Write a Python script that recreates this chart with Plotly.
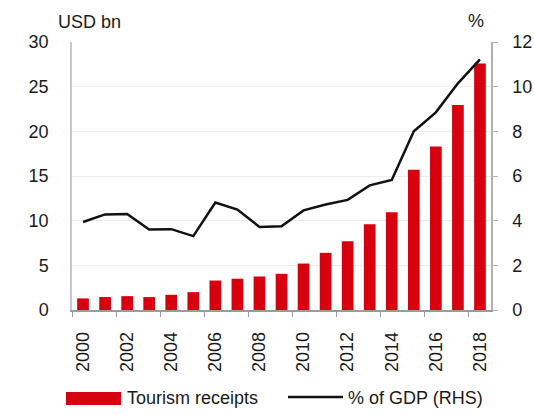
import plotly.graph_objects as go

years = list(range(2000, 2019))
receipts = [1.3, 1.45, 1.55, 1.45, 1.7, 2.0, 3.3, 3.5, 3.75, 4.05, 5.2, 6.4, 7.7, 9.6, 10.95, 15.7, 18.3, 22.95, 27.6]
gdp_pct = [3.94, 4.28, 4.3, 3.6, 3.62, 3.31, 4.81, 4.5, 3.72, 3.75, 4.46, 4.72, 4.93, 5.58, 5.82, 8.0, 8.85, 10.15, 11.22]
bar_name = "Tourism receipts"
line_name = "% of GDP (RHS)"
left_title = "USD bn"
right_title = "%"

RED = "#d7000f"
FONT = "Liberation Sans, Arial, sans-serif"
FS = 18
W, H = 534, 414
L, R, T, B = 72, 491, 42, 310


def px_x(p):
    return (p - L) / (R - L)


def px_y(p):
    return (B - p) / (B - T)


fig = go.Figure()
fig.add_trace(go.Bar(x=years, y=receipts, name=bar_name, marker_color=RED,
                     marker_line_width=0, width=0.53, showlegend=False))
fig.add_trace(go.Scatter(x=years, y=gdp_pct, name=line_name, mode="lines",
                         line=dict(color="#111111", width=2.5), yaxis="y2",
                         showlegend=False))

fig.update_layout(
    width=W, height=H,
    margin=dict(l=L, r=W - R, t=T, b=H - B, pad=0),
    paper_bgcolor="white", plot_bgcolor="white",
    font=dict(family=FONT, size=FS, color="#1a1a1a"),
    showlegend=False,
    xaxis=dict(range=[1999.5, 2018.5], tickvals=years[::2], tickangle=-90,
               ticks="", showline=True, linecolor="#9a9a9a", linewidth=1.5,
               showgrid=False, zeroline=False, ticklabelstandoff=13,
               automargin=False,
               minor=dict(tickvals=[1999.5 + 2 * i for i in range(10)],
                          ticks="outside", ticklen=5, tickcolor="#9a9a9a",
                          showgrid=False)),
    yaxis=dict(range=[0, 30], dtick=5, showline=True, linecolor="#c8c8c8",
               linewidth=1.5, showgrid=True, gridcolor="#ececec",
               zeroline=False, ticks="", ticklabelstandoff=18,
               automargin=False),
    yaxis2=dict(range=[0, 12], dtick=2, overlaying="y", side="right",
                showline=True, linecolor="#b0b0b0", linewidth=1.5,
                ticks="outside", ticklen=5, tickcolor="#b0b0b0",
                showgrid=False, zeroline=False, ticklabelstandoff=11,
                automargin=False),
)

# axis unit titles
fig.add_annotation(text=left_title, xref="paper", yref="paper",
                   x=px_x(56), y=px_y(22), xanchor="left", yanchor="middle",
                   showarrow=False)
fig.add_annotation(text=right_title, xref="paper", yref="paper",
                   x=px_x(466), y=px_y(21), xanchor="left", yanchor="middle",
                   showarrow=False)

# legend
fig.add_shape(type="rect", xref="paper", yref="paper",
              x0=px_x(66), x1=px_x(121), y0=px_y(405), y1=px_y(392),
              fillcolor=RED, line_width=0)
fig.add_annotation(text=bar_name, xref="paper", yref="paper",
                   x=px_x(125), y=px_y(398), xanchor="left", yanchor="middle",
                   showarrow=False)
fig.add_shape(type="line", xref="paper", yref="paper",
              x0=px_x(288), x1=px_x(343), y0=px_y(397), y1=px_y(397),
              line=dict(color="#111111", width=2.5))
fig.add_annotation(text=line_name, xref="paper", yref="paper",
                   x=px_x(346), y=px_y(398), xanchor="left", yanchor="middle",
                   showarrow=False)

fig.write_html("out.html")
